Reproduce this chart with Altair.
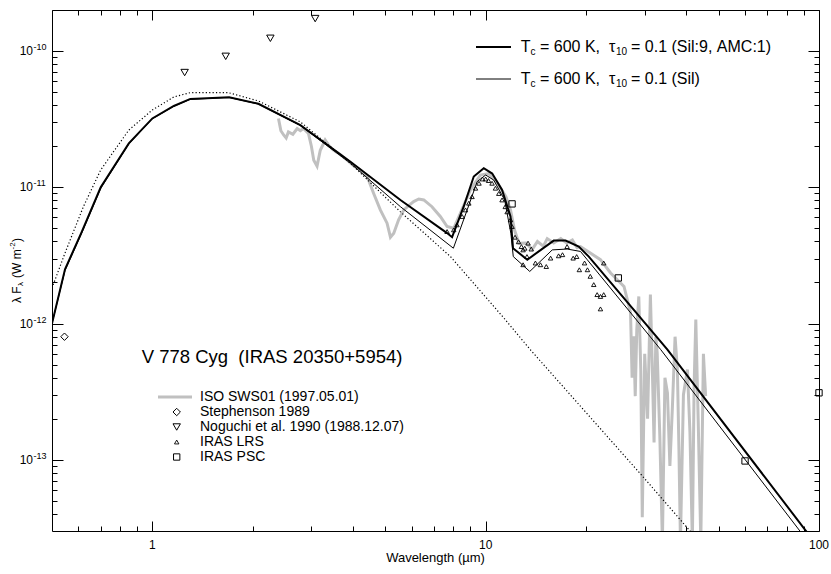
import altair as alt
import pandas as pd

FONT = "Liberation Sans"
W, H = 767, 521
SP = "\u00a0"

# ---------------- data ----------------
# Model: Tc = 600 K, tau10 = 0.1 (Sil:9, AMC:1)  (thick)
wl_thick = [0.5, 0.547, 0.614, 0.70, 0.85, 1.0, 1.16, 1.30, 1.70, 2.08, 2.78, 3.93, 5.55,
            7.66, 7.93, 8.59, 9.21, 9.87, 10.46, 11.2, 11.87, 12.08, 13.33, 16.0, 17.37,
            19.02, 20.39, 35.1, 100]
f_thick = [1.0e-12, 2.5e-12, 4.7e-12, 1.0e-11, 2.1e-11, 3.2e-11, 3.95e-11, 4.45e-11, 4.58e-11,
           4.1e-11, 2.86e-11, 1.54e-11, 8.07e-12, 4.61e-12, 4.3e-12, 7.2e-12, 1.2e-11, 1.38e-11,
           1.26e-11, 9.55e-12, 6.1e-12, 3.57e-12, 2.94e-12, 4.06e-12, 4.06e-12, 3.67e-12,
           3.1e-12, 6.44e-13, 2.25e-14]

# Model: Tc = 600 K, tau10 = 0.1 (Sil)  (thin)
wl_thin = [0.5, 0.547, 0.614, 0.70, 0.85, 1.0, 1.16, 1.30, 1.70, 2.08, 2.78, 3.93, 5.55,
           8.0, 8.8, 9.43, 10.0, 10.57, 11.4, 11.9, 12.1, 13.56, 15.84, 17.56, 19.25, 20.17,
           33.5, 100]
f_thin = [1.0e-12, 2.45e-12, 4.6e-12, 9.8e-12, 2.08e-11, 3.18e-11, 3.93e-11, 4.42e-11, 4.56e-11,
          4.08e-11, 2.84e-11, 1.5e-11, 7.2e-12, 3.57e-12, 6.82e-12, 1.1e-11, 1.23e-11, 1.13e-11,
          8.07e-12, 4.6e-12, 3.1e-12, 2.41e-12, 3.47e-12, 3.52e-12, 3.38e-12, 2.94e-12,
          6.44e-13, 1.97e-14]

# Photosphere (dotted)
wl_dot = [0.5, 0.547, 0.621, 0.70, 0.85, 1.0, 1.16, 1.30, 1.69, 2.08, 2.78, 3.93, 5.55, 7.84,
          11.33, 13.6, 29.8, 39.8, 45.0]
f_dot = [1.82e-12, 3.29e-12, 7.2e-12, 1.34e-11, 2.63e-11, 3.69e-11, 4.6e-11, 4.95e-11, 4.95e-11,
         4.3e-11, 3.02e-11, 1.5e-11, 6.6e-12, 3.1e-12, 1.1e-12, 6.44e-13, 7.4e-14, 3.27e-14,
         2.3e-14]

# ISO SWS01 (1997.05.01)
wl_iso = [2.39, 2.43, 2.48, 2.52, 2.56, 2.64, 2.72, 2.78, 2.84, 2.94, 3.0, 3.05, 3.12, 3.19,
          3.30, 3.40, 3.50, 3.65, 3.84, 4.0, 4.2, 4.41, 4.61, 4.83, 5.06, 5.18, 5.3, 5.48, 5.68,
          5.9, 6.08, 6.3, 6.52, 6.9, 7.31, 7.66, 8.02, 8.4, 9.0, 9.64, 10.2, 10.85, 11.5, 11.87,
          12.2, 12.58, 13.2, 13.8, 14.3, 14.9, 15.3, 16.0, 16.8, 17.5, 18.2, 18.8, 19.25, 20.6,
          22.1, 23.7, 26.0, 26.6, 27.2, 27.5, 27.8, 28.1, 28.4, 28.8, 29.2, 29.5, 30.0, 30.6,
          31.2, 31.6, 32.0, 32.4, 32.7, 33.3, 33.9, 34.5, 35.1, 35.7, 36.3, 37.0, 37.6, 38.0,
          38.4, 39.2, 40.3, 41.0, 41.7, 42.2, 42.7, 43.4, 44.2, 45.0, 45.7]
f_iso = [3.2e-11, 2.6e-11, 2.41e-11, 2.3e-11, 2.55e-11, 2.45e-11, 2.7e-11, 2.6e-11, 2.7e-11,
         2.48e-11, 2.0e-11, 1.58e-11, 1.43e-11, 1.87e-11, 2.22e-11, 2.0e-11, 1.87e-11, 1.75e-11,
         1.58e-11, 1.45e-11, 1.34e-11, 1.2e-11, 9.04e-12, 6.82e-12, 5.45e-12, 4.3e-12, 4.6e-12,
         5.77e-12, 6.82e-12, 7.4e-12, 7.85e-12, 8.2e-12, 8.07e-12, 7.2e-12, 6.1e-12, 5.15e-12,
         5.0e-12, 6.45e-12, 9.55e-12, 1.23e-11, 1.26e-11, 1.07e-11, 8.53e-12, 6.82e-12, 4.87e-12,
         3.89e-12, 3.9e-12, 3.5e-12, 4.0e-12, 3.7e-12, 4.2e-12, 3.9e-12, 4.2e-12, 3.9e-12,
         4.1e-12, 3.6e-12, 3.67e-12, 3.29e-12, 2.94e-12, 2.35e-12, 1.87e-12, 1.5e-12, 1.2e-12,
         4.0e-13, 8.05e-13, 2.93e-13, 9.0e-13, 1.58e-12, 4.5e-13, 3.78e-14, 6.0e-13, 2.0e-13,
         1.63e-12, 5.0e-13, 1.34e-13, 8.0e-13, 6.1e-13, 1.5e-13, 2.5e-14, 4.0e-13, 3.1e-13,
         9.0e-14, 2.34e-13, 8.0e-13, 4.6e-13, 1.2e-13, 2.5e-14, 3.0e-13, 4.6e-13, 1.6e-13,
         2.5e-14, 3.5e-13, 1.07e-12, 2.0e-13, 2.5e-14, 6.0e-13, 2.93e-13]

# Stephenson 1989
wl_st = [0.545]
f_st = [8.0e-13]

# Noguchi et al. 1990 (1988.12.07)
wl_no = [1.25, 1.66, 2.26, 3.08]
f_no = [6.95e-11, 9.14e-11, 1.24e-10, 1.73e-10]

# IRAS LRS
wl_lrs = [7.66, 8.02, 8.2, 8.5, 8.7, 8.9, 9.1, 9.32, 9.55, 9.78, 10.0, 10.2, 10.45, 10.7, 10.95,
          11.2, 11.45, 11.6, 11.87, 12.0, 12.25, 12.55, 12.8, 13.1, 13.4, 13.7, 12.95, 13.3,
          12.95, 14.1, 14.6, 15.2, 15.66, 16.55, 17.0, 17.55, 18.3, 18.75, 19.1, 19.8, 20.2,
          20.6, 21.1, 21.6, 22.1, 22.6, 22.1, 22.6]
f_lrs = [4.73e-12, 4.87e-12, 5.3e-12, 6.1e-12, 6.82e-12, 7.64e-12, 8.53e-12, 9.84e-12, 1.07e-11,
         1.15e-11, 1.15e-11, 1.12e-11, 1.07e-11, 9.84e-12, 9.0e-12, 8.07e-12, 7.2e-12, 6.6e-12,
         5.77e-12, 5.15e-12, 4.3e-12, 3.98e-12, 3.67e-12, 3.57e-12, 3.89e-12, 3.52e-12, 3.47e-12,
         3.1e-12, 2.7e-12, 2.78e-12, 2.7e-12, 2.62e-12, 3.02e-12, 3.14e-12, 3.2e-12, 3.67e-12,
         3.02e-12, 3.1e-12, 2.48e-12, 2.78e-12, 2.48e-12, 2.22e-12, 1.93e-12, 1.63e-12,
         1.58e-12, 1.63e-12, 1.28e-12, 2.78e-12]

# IRAS PSC
wl_psc = [12.0, 25.0, 60.0, 100.0]
f_psc = [7.55e-12, 2.16e-12, 9.8e-14, 3.1e-13]

# axis ticks
x_major = [1, 10, 100]
x_major_lab = ["1", "10", "100"]
x_minor = [0.6, 0.7, 0.8, 0.9, 2, 3, 4, 5, 6, 7, 8, 9, 20, 30, 40, 50, 60, 70, 80, 90]
y_major = [1e-13, 1e-12, 1e-11, 1e-10]
y_major_exp = ["-13", "-12", "-11", "-10"]
y_minor = [m * d for d in [1e-14, 1e-13, 1e-12, 1e-11] for m in range(2, 10)
           if 3e-14 < m * d < 2e-10] + [2e-10]

# ---------------- chart ----------------
xs = alt.Scale(type="log", domain=[0.5, 100], nice=False)
ys = alt.Scale(type="log", domain=[3e-14, 2e-10], nice=False)


def tick_axis(orient, values, ln):
    # inward ticks: axis line moved inside by ln, ticks drawn outward onto the frame
    return alt.Axis(orient=orient, values=values, tickSize=ln, offset=-ln, domain=False,
                    labels=False, grid=False, ticks=True, tickColor="black", tickWidth=1,
                    tickOpacity=1, title=None)


def X(f="x", axis=None):
    return alt.X(f"{f}:Q", scale=xs, axis=axis)


def Y(f="y", axis=None):
    return alt.Y(f"{f}:Q", scale=ys, axis=axis)


def df(x, y):
    return pd.DataFrame({"x": x, "y": y, "i": range(len(x))})


def line(x, y, xa=None, ya=None, **kw):
    return alt.Chart(df(x, y)).mark_line(clip=True, **kw).encode(
        x=X(axis=xa), y=Y(axis=ya), order=alt.Order("i:Q"))


def pts(x, y, shape, size, sw=1.0):
    return alt.Chart(df(x, y)).mark_point(shape=shape, size=size, filled=False, color="black",
                                          strokeWidth=sw, opacity=1).encode(x=X(), y=Y())


def txt(text, x, y, size, align="left", angle=0, dy=0):
    kw = dict(fontSize=size, font=FONT, align=align, baseline="middle", color="black", dy=dy)
    if angle:
        kw["angle"] = angle
    return alt.Chart(pd.DataFrame({"t": [text.replace(" ", SP)]})).mark_text(**kw).encode(
        x=alt.value(x), y=alt.value(y), text="t:N")


layers = []
layers.append(line(wl_iso, f_iso, xa=tick_axis("top", x_minor, 5),
                   ya=tick_axis("right", y_minor, 5), color="#c0c0c0", strokeWidth=3))
layers.append(line(wl_dot, f_dot, xa=tick_axis("top", x_major, 10),
                   ya=tick_axis("right", y_major, 11), color="black", strokeWidth=1.2,
                   strokeDash=[1.2, 2.2]))
layers.append(line(wl_thin, f_thin, xa=tick_axis("bottom", x_minor, 5),
                   ya=tick_axis("left", y_minor, 5), color="black", strokeWidth=1))
layers.append(line(wl_thick, f_thick, xa=tick_axis("bottom", x_major, 10),
                   ya=tick_axis("left", y_major, 11), color="black", strokeWidth=2))
layers.append(pts(wl_lrs, f_lrs, "triangle-up", 20, 0.9))
layers.append(pts(wl_psc, f_psc, "square", 40))
layers.append(pts(wl_no, f_no, "triangle-down", 55))
layers.append(pts(wl_st, f_st, "diamond", 55))

# tick labels
xmaj = pd.DataFrame({"v": x_major, "lab": x_major_lab})
ymaj = pd.DataFrame({"v": y_major, "sup": y_major_exp, "base": ["10"] * len(y_major)})
layers.append(alt.Chart(xmaj).mark_text(fontSize=12, font=FONT, align="center",
                                        baseline="middle", color="black").encode(
    x=X("v"), y=alt.value(H + 14), text="lab:N"))
layers.append(alt.Chart(ymaj).mark_text(fontSize=12, font=FONT, align="right",
                                        baseline="middle", color="black").encode(
    y=Y("v"), x=alt.value(-19), text="base:N"))
layers.append(alt.Chart(ymaj).mark_text(fontSize=9, font=FONT, align="left",
                                        baseline="middle", color="black", dy=-4).encode(
    y=Y("v"), x=alt.value(-18.5), text="sup:N"))

# axis titles
layers.append(txt("Wavelength (\u00b5m)", W / 2, H + 27, 13, align="center"))
layers.append(txt("\u03bb F", -35, 293, 12, angle=270))
layers.append(txt("\u03bb", -31, 276, 8, angle=270))
layers.append(txt("(W m", -35, 268, 12, angle=270))
layers.append(txt("-2", -39, 239.5, 8, angle=270))
layers.append(txt(")", -35, 232, 12, angle=270))

# top-right legend
for yy, sw, tail in [(37, 2, "= 0.1 (Sil:9, AMC:1)"), (69, 1, "= 0.1 (Sil)")]:
    layers.append(alt.Chart(pd.DataFrame({"a": [0]})).mark_rule(
        color="black", strokeWidth=sw).encode(
        x=alt.value(424), x2=alt.value(459), y=alt.value(yy)))
    layers.append(txt("T", 468.7, yy, 16))
    layers.append(txt("c", 478.5, yy, 10, dy=5))
    layers.append(txt("= 600 K,  \u03c4", 488, yy, 16))
    layers.append(txt("10", 564, yy, 10, dy=5))
    layers.append(txt(tail, 579, yy, 16))

# bottom-left legend
layers.append(txt("V 778 Cyg  (IRAS 20350+5954)", 89.7, 347, 18.5))
layers.append(alt.Chart(pd.DataFrame({"a": [0]})).mark_rule(
    color="#c0c0c0", strokeWidth=3).encode(
    x=alt.value(106), x2=alt.value(140), y=alt.value(387)))
for yy, shape, size, sw in [(402, "diamond", 55, 1.0), (417, "triangle-down", 55, 1.0),
                            (432, "triangle-up", 20, 0.9), (447, "square", 40, 1.0)]:
    layers.append(alt.Chart(pd.DataFrame({"a": [0]})).mark_point(
        shape=shape, size=size, filled=False, color="black", strokeWidth=sw, opacity=1).encode(
        x=alt.value(124.7), y=alt.value(yy)))
for yy, t in [(387, "ISO SWS01 (1997.05.01)"), (402, "Stephenson 1989"),
              (417, "Noguchi et al. 1990 (1988.12.07)"), (432, "IRAS LRS"), (447, "IRAS PSC")]:
    layers.append(txt(t, 148, yy, 14))

chart = alt.layer(*layers).resolve_axis(x="independent", y="independent").properties(
    width=W, height=H,
    autosize=alt.AutoSizeParams(type="none"),
    padding={"left": 52, "top": 10, "right": 12, "bottom": 43},
    background="white",
).configure_view(stroke="black", strokeWidth=1)

chart.save("out.html", embed_options={"renderer": "svg", "actions": False})
